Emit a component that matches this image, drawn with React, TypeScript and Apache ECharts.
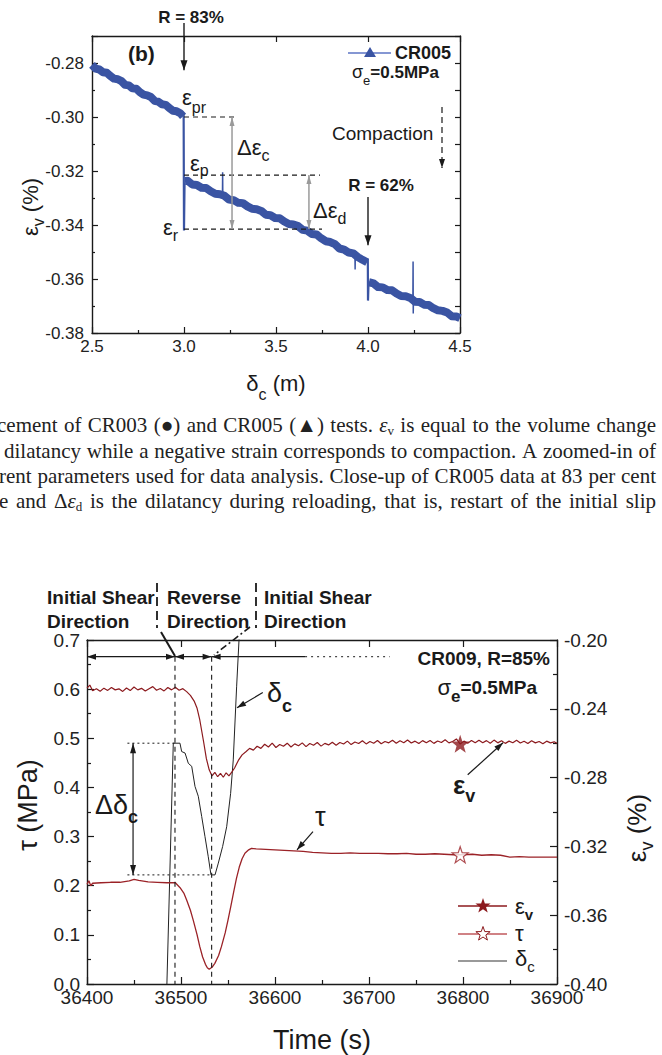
import React, { useEffect, useRef } from "react";
import * as echarts from "echarts";

const SANS = "Liberation Sans, Arial, Helvetica, sans-serif";
const SERIF = "Liberation Serif, Times New Roman, serif";
const INK = "#1a1a1a";
const BLUE = "#3a54a3";
const EV_RED = "#8c1a1e";
const TAU_RED = "#9b2227";

// ---- panel (b): CR005, volumetric strain (%) against slip δc (m) ----
const cr005Before: [number, number][] = [
  [2.5, -0.2807], [2.52, -0.2821], [2.54, -0.2824], [2.56, -0.2834], [2.58, -0.2836],
  [2.6, -0.2848], [2.62, -0.2858], [2.64, -0.286], [2.66, -0.2867], [2.68, -0.2881],
  [2.7, -0.2883], [2.72, -0.2894], [2.74, -0.2895], [2.76, -0.2908], [2.78, -0.2917],
  [2.8, -0.292], [2.82, -0.2926], [2.84, -0.294], [2.86, -0.2943], [2.88, -0.2953],
  [2.9, -0.2955], [2.92, -0.2967], [2.94, -0.2977], [2.96, -0.2979], [2.98, -0.2986],
  [2.995, -0.2998],
];
const cr005Between: [number, number][] = [
  [3.005, -0.3237], [3.02, -0.3236], [3.045, -0.325], [3.07, -0.3252], [3.095, -0.3262],
  [3.12, -0.3263], [3.145, -0.3275], [3.17, -0.3284], [3.195, -0.3286], [3.22, -0.3292],
  [3.245, -0.3306], [3.27, -0.3308], [3.295, -0.3318], [3.32, -0.3319], [3.345, -0.3331],
  [3.37, -0.334], [3.395, -0.3342], [3.42, -0.3348], [3.445, -0.3362], [3.47, -0.3364],
  [3.495, -0.3374], [3.52, -0.3375], [3.545, -0.3387], [3.57, -0.3396], [3.595, -0.3398],
  [3.62, -0.3404], [3.645, -0.3418], [3.67, -0.3421], [3.695, -0.3433], [3.72, -0.3435],
  [3.745, -0.3449], [3.77, -0.346], [3.795, -0.3463], [3.82, -0.3471], [3.845, -0.3487],
  [3.87, -0.3491], [3.895, -0.3502], [3.92, -0.3505], [3.945, -0.3519], [3.97, -0.3529],
  [3.995, -0.3538],
];
const cr005After: [number, number][] = [
  [4.005, -0.3612], [4.03, -0.3616], [4.055, -0.363], [4.08, -0.3631], [4.105, -0.3641],
  [4.13, -0.3642], [4.155, -0.3654], [4.18, -0.3663], [4.205, -0.3664], [4.23, -0.367],
  [4.255, -0.3684], [4.28, -0.3685], [4.305, -0.3695], [4.33, -0.3696], [4.355, -0.3708],
  [4.38, -0.3716], [4.405, -0.3718], [4.43, -0.3724], [4.455, -0.3738], [4.48, -0.3739],
  [4.5, -0.3745],
];
const cr005Drop83: [number, number][] = [[2.998, -0.2985], [3.0, -0.342], [3.003, -0.3245]];
const cr005Drop62: [number, number][] = [[3.999, -0.3525], [4.0, -0.368], [4.003, -0.3612]];
const cr005Spikes: [number, number][][] = [
  [[3.209, -0.3288], [3.21, -0.3205], [3.211, -0.3291]],
  [[3.929, -0.3505], [3.93, -0.3565], [3.931, -0.351]],
  [[4.244, -0.3668], [4.245, -0.3535], [4.246, -0.3728], [4.247, -0.3671]],
];

// ---- CR009: εv (%), τ (MPa) and δc against time (s) ----
const evCR009: [number, number][] = [
  [36400, -0.228], [36403, -0.2262], [36406, -0.2295], [36410, -0.2283], [36414, -0.2298],
  [36418, -0.228], [36422, -0.2293], [36426, -0.2276], [36430, -0.229], [36434, -0.2284],
  [36438, -0.2299], [36442, -0.2279], [36446, -0.2294], [36450, -0.2273], [36454, -0.229],
  [36458, -0.2281], [36462, -0.2297], [36466, -0.2283], [36470, -0.2271], [36474, -0.2292],
  [36478, -0.2282], [36482, -0.2296], [36486, -0.2276], [36490, -0.229], [36494, -0.2275],
  [36498, -0.2292], [36502, -0.2283], [36506, -0.23], [36510, -0.2322], [36514, -0.2355],
  [36517, -0.2395], [36520, -0.2465], [36524, -0.259], [36527, -0.269], [36530, -0.2755],
  [36533, -0.279], [36536, -0.277], [36539, -0.2795], [36542, -0.2775], [36545, -0.2798],
  [36548, -0.2772], [36551, -0.279], [36554, -0.2768], [36557, -0.2744], [36561, -0.27],
  [36565, -0.2668], [36569, -0.265], [36573, -0.263], [36577, -0.264], [36581, -0.2618],
  [36585, -0.263], [36589, -0.2606], [36593, -0.2622], [36597, -0.26], [36601, -0.2625],
  [36605, -0.2608], [36609, -0.2618], [36613, -0.26], [36617, -0.2622], [36621, -0.2604],
  [36625, -0.2615], [36629, -0.2598], [36633, -0.262], [36637, -0.2602], [36641, -0.2612],
  [36645, -0.2596], [36649, -0.2617], [36653, -0.2601], [36657, -0.261], [36661, -0.2594],
  [36665, -0.2612], [36669, -0.2596], [36673, -0.2605], [36677, -0.2588], [36681, -0.2608],
  [36685, -0.2593], [36689, -0.2602], [36693, -0.2586], [36697, -0.2604], [36701, -0.259],
  [36705, -0.26], [36709, -0.2584], [36713, -0.2603], [36717, -0.259], [36721, -0.2598],
  [36725, -0.2583], [36729, -0.26], [36733, -0.2586], [36737, -0.2597], [36741, -0.2581],
  [36745, -0.2599], [36749, -0.2588], [36753, -0.2602], [36757, -0.2585], [36761, -0.2598],
  [36765, -0.2584], [36769, -0.2601], [36773, -0.2587], [36777, -0.2596], [36781, -0.258],
  [36785, -0.2598], [36789, -0.259], [36793, -0.2575], [36797, -0.2605], [36801, -0.2588],
  [36805, -0.26], [36809, -0.2584], [36813, -0.2598], [36817, -0.2583], [36821, -0.2597],
  [36825, -0.2585], [36829, -0.26], [36833, -0.2582], [36837, -0.2598], [36841, -0.2586],
  [36845, -0.2601], [36849, -0.2588], [36853, -0.2597], [36857, -0.2583], [36861, -0.2599],
  [36865, -0.2589], [36869, -0.2602], [36873, -0.2586], [36877, -0.2598], [36881, -0.259],
  [36885, -0.2603], [36889, -0.2588], [36893, -0.2598], [36897, -0.2592], [36900, -0.26],
];
const tauCR009: [number, number][] = [
  [36400, 0.203], [36402, 0.21], [36404, 0.2], [36406, 0.205], [36415, 0.206], [36425, 0.207],
  [36435, 0.207], [36445, 0.21], [36450, 0.213], [36455, 0.211], [36465, 0.208], [36475, 0.207],
  [36485, 0.206], [36494, 0.206], [36499, 0.196], [36503, 0.185], [36506, 0.171], [36510, 0.15],
  [36513, 0.13], [36517, 0.101], [36520, 0.076], [36523, 0.055], [36526, 0.04], [36528, 0.033],
  [36530, 0.03], [36533, 0.034], [36536, 0.042], [36540, 0.058], [36543, 0.076], [36547, 0.104],
  [36550, 0.13], [36553, 0.158], [36556, 0.187], [36559, 0.215], [36562, 0.238], [36565, 0.255],
  [36568, 0.266], [36572, 0.273], [36575, 0.276], [36580, 0.275], [36590, 0.274], [36600, 0.273],
  [36610, 0.272], [36620, 0.271], [36630, 0.27], [36640, 0.268], [36650, 0.267], [36660, 0.266],
  [36670, 0.266], [36680, 0.267], [36690, 0.266], [36700, 0.266], [36710, 0.266], [36720, 0.265],
  [36730, 0.265], [36740, 0.266], [36750, 0.264], [36760, 0.264], [36770, 0.265], [36780, 0.264],
  [36790, 0.263], [36800, 0.263], [36810, 0.264], [36820, 0.262], [36830, 0.263], [36840, 0.262],
  [36850, 0.258], [36860, 0.259], [36870, 0.258], [36880, 0.258], [36890, 0.258], [36900, 0.258],
];
const deltaCR009: [number, number][] = [
  [36485, 0.0], [36491.8, 0.49], [36498.9, 0.49], [36500.7, 0.473], [36504.3, 0.47],
  [36507.8, 0.449], [36511.4, 0.443], [36514.9, 0.402], [36518.4, 0.382], [36522, 0.341],
  [36525.5, 0.3], [36529, 0.259], [36531.9, 0.222], [36536.2, 0.222], [36539.7, 0.246],
  [36544.3, 0.28], [36548.6, 0.32], [36552.8, 0.388], [36555.6, 0.456], [36559.2, 0.606],
  [36561.9, 0.707],
];
const markerTime = 36797;
const evMarker = -0.2603;
const tauMarker = 0.263;

// caption fragment between the panels ({i|..} italic, {s|..} subscript)
const captionLines = [
  "cement of CR003 (●) and CR005 (▲) tests. {i|ε}{s|v} is equal to the volume change",
  "dilatancy while a negative strain corresponds to compaction. A zoomed-in of",
  "rent parameters used for data analysis. Close-up of CR005 data at 83 per cent",
  "e and Δ{i|ε}{s|d} is the dilatancy during reloading, that is, restart of the initial slip",
];
const CAP_SIZE = 21;
const CAP_SUB = 13;

const starPath = (() => {
  const p: string[] = [];
  for (let i = 0; i < 10; i++) {
    const r = i % 2 === 0 ? 10 : 4;
    const a = -Math.PI / 2 + (i * Math.PI) / 5;
    p.push(`${(r * Math.cos(a)).toFixed(2)},${(r * Math.sin(a)).toFixed(2)}`);
  }
  return "path://M" + p.join("L") + "Z";
})();

const starPts = (cx: number, cy: number, R: number) => {
  const pts: number[][] = [];
  for (let i = 0; i < 10; i++) {
    const r = i % 2 === 0 ? R : R * 0.4;
    const a = -Math.PI / 2 + (i * Math.PI) / 5;
    pts.push([cx + r * Math.cos(a), cy + r * Math.sin(a)]);
  }
  return pts;
};

// graphic helpers
const seg = (a: number[], b: number[], color = INK, width = 1.2, dash?: number[]) => ({
  type: "line",
  silent: true,
  z: 20,
  shape: { x1: a[0], y1: a[1], x2: b[0], y2: b[1] },
  style: { stroke: color, lineWidth: width, lineDash: dash },
});
const head = (tip: number[], from: number[], color: string, len: number, w: number) => {
  const dx = tip[0] - from[0];
  const dy = tip[1] - from[1];
  const d = Math.hypot(dx, dy) || 1;
  const ux = dx / d;
  const uy = dy / d;
  const bx = tip[0] - ux * len;
  const by = tip[1] - uy * len;
  return {
    type: "polygon",
    silent: true,
    z: 21,
    shape: { points: [[tip[0], tip[1]], [bx - (uy * w) / 2, by + (ux * w) / 2], [bx + (uy * w) / 2, by - (ux * w) / 2]] },
    style: { fill: color },
  };
};
const arrow = (a: number[], b: number[], o: any = {}) => {
  const color = o.color || INK;
  const len = o.len || 9;
  const w = o.w || 6;
  const out: any[] = [seg(a, b, color, o.width || 1.2, o.dash), head(b, a, color, len, w)];
  if (o.both) out.push(head(a, b, color, len, w));
  return out;
};
const txt = (x: number, y: number, text: string, size: number, o: any = {}) => ({
  type: "text",
  silent: true,
  z: 22,
  x,
  y,
  rotation: o.rotation || 0,
  style: {
    text,
    fontSize: size,
    fontFamily: o.family || SANS,
    fontWeight: o.weight || "normal",
    fontStyle: o.italic ? "italic" : "normal",
    fill: o.color || INK,
    align: o.align || "left",
    verticalAlign: "middle",
    textAlign: o.align || "left",
    textVerticalAlign: "middle",
    rich: o.rich,
  },
});
// main text plus a lowered subscript, drawn as rich text
const subRich = (m: number, s: number, drop: number, o: any = {}) => ({
  m: { fontSize: m, fontFamily: o.family || SANS, fontWeight: o.mw || "normal", fill: INK },
  s: { fontSize: s, fontFamily: o.family || SANS, fontWeight: o.sw || "normal", fill: INK, padding: [drop * 2, 0, 0, 0] },
  b: { fontSize: o.b || m, fontFamily: o.family || SANS, fontWeight: "bold", fill: INK },
});

// justified caption line: words spread between x0 and x1
const captionLine = (line: string, x0: number, x1: number, y: number) => {
  const ctx = document.createElement("canvas").getContext("2d") as CanvasRenderingContext2D;
  const runsOf = (w: string) => {
    const out: { k: string; t: string }[] = [];
    const re = /\{(\w)\|([^}]*)\}|([^{]+)/g;
    let m: RegExpExecArray | null;
    while ((m = re.exec(w))) out.push(m[3] != null ? { k: "n", t: m[3] } : { k: m[1], t: m[2] });
    return out;
  };
  const widthOf = (r: { k: string; t: string }) => {
    ctx.font = `${r.k === "i" ? "italic " : ""}${r.k === "s" ? CAP_SUB : CAP_SIZE}px ${SERIF}`;
    return ctx.measureText(r.t).width;
  };
  const words = line.split(" ").filter((w) => w.length).map((w) => {
    const runs = runsOf(w);
    return { runs, w: runs.reduce((a, r) => a + widthOf(r), 0) };
  });
  const total = words.reduce((a, p) => a + p.w, 0);
  const gap = (x1 - x0 - total) / Math.max(1, words.length - 1);
  const els: any[] = [];
  let x = x0;
  words.forEach((p) => {
    let cx = x;
    p.runs.forEach((r) => {
      els.push(
        txt(cx, r.k === "s" ? y + 5 : y, r.t, r.k === "s" ? CAP_SUB : CAP_SIZE, {
          family: SERIF,
          italic: r.k === "i",
          color: "#222",
        })
      );
      cx += widthOf(r);
    });
    x += p.w + gap;
  });
  return els;
};

const axisLine = { show: true, onZero: false, lineStyle: { color: INK, width: 1.4 } };
const tickStyle = { color: INK, width: 1.2 };

export default function App() {
  const ref = useRef<HTMLDivElement>(null);

  useEffect(() => {
    const chart = echarts.init(ref.current, null, { renderer: "svg" });

    const thin = (data: [number, number][], width = 2.2) => ({
      type: "line",
      xAxisIndex: 0,
      yAxisIndex: 0,
      data,
      symbol: "none",
      lineStyle: { color: BLUE, width },
      z: 4,
    });
    const band = (data: [number, number][]) => ({
      type: "line",
      xAxisIndex: 0,
      yAxisIndex: 0,
      data,
      symbol: "none",
      lineStyle: { color: BLUE, width: 8, join: "round" },
      z: 3,
    });

    chart.setOption({
      animation: false,
      backgroundColor: "#fff",
      grid: [
        { left: 92, top: 36, width: 368, height: 297 },
        { left: 87, top: 640, width: 470, height: 344 },
      ],
      xAxis: [
        {
          gridIndex: 0, type: "value", position: "bottom", min: 2.5, max: 4.5, interval: 0.5,
          axisLine, axisTick: { inside: true, length: 6, lineStyle: tickStyle },
          minorTick: { show: true, splitNumber: 2, length: 3, lineStyle: tickStyle },
          splitLine: { show: false },
          axisLabel: { fontSize: 17, fontFamily: SANS, color: "#222", margin: 5, formatter: (v: number) => v.toFixed(1) },
        },
        {
          gridIndex: 0, type: "value", position: "top", min: 2.5, max: 4.5, interval: 0.5,
          axisLine, axisTick: { inside: true, length: 6, lineStyle: tickStyle },
          splitLine: { show: false }, axisLabel: { show: false },
        },
        {
          gridIndex: 1, type: "value", position: "bottom", min: 36400, max: 36900, interval: 100,
          axisLine, axisTick: { inside: true, length: 7, lineStyle: tickStyle },
          minorTick: { show: true, splitNumber: 2, length: 4, lineStyle: tickStyle },
          splitLine: { show: false },
          axisLabel: { fontSize: 19, fontFamily: SANS, color: "#222", margin: 4, formatter: (v: number) => String(v) },
        },
        {
          gridIndex: 1, type: "value", position: "top", min: 36400, max: 36900, interval: 100,
          axisLine, axisTick: { inside: true, length: 7, lineStyle: tickStyle },
          splitLine: { show: false }, axisLabel: { show: false },
        },
      ],
      yAxis: [
        {
          gridIndex: 0, type: "value", position: "left", min: -0.38, max: -0.27, interval: 0.02,
          axisLine, axisTick: { inside: true, length: 6, lineStyle: tickStyle },
          minorTick: { show: true, splitNumber: 2, length: 3, lineStyle: tickStyle },
          splitLine: { show: false },
          axisLabel: { fontSize: 17, fontFamily: SANS, color: "#222", margin: 8, showMaxLabel: false, formatter: (v: number) => v.toFixed(2) },
        },
        {
          gridIndex: 0, type: "value", position: "right", min: -0.38, max: -0.27, interval: 0.01,
          axisLine, axisTick: { inside: true, length: 5, lineStyle: tickStyle },
          splitLine: { show: false }, axisLabel: { show: false },
        },
        {
          gridIndex: 1, type: "value", position: "left", min: 0, max: 0.7, interval: 0.1,
          axisLine, axisTick: { inside: true, length: 7, lineStyle: tickStyle },
          minorTick: { show: true, splitNumber: 2, length: 4, lineStyle: tickStyle },
          splitLine: { show: false },
          axisLabel: { fontSize: 19, fontFamily: SANS, color: "#222", margin: 7, formatter: (v: number) => v.toFixed(1) },
        },
        {
          gridIndex: 1, type: "value", position: "right", min: -0.4, max: -0.2, interval: 0.04,
          axisLine, axisTick: { inside: true, length: 7, lineStyle: tickStyle },
          minorTick: { show: true, splitNumber: 2, length: 4, lineStyle: tickStyle },
          splitLine: { show: false },
          axisLabel: { fontSize: 19, fontFamily: SANS, color: "#222", margin: 7, formatter: (v: number) => v.toFixed(2) },
        },
      ],
      series: [
        band(cr005Before),
        band(cr005Between),
        band(cr005After),
        thin(cr005Drop83),
        thin(cr005Drop62),
        ...cr005Spikes.map((s) => thin(s, 1.5)),
        {
          name: "εv", type: "line", xAxisIndex: 2, yAxisIndex: 3, data: evCR009, symbol: "none",
          lineStyle: { color: EV_RED, width: 1.2 }, z: 3,
        },
        {
          name: "τ", type: "line", xAxisIndex: 2, yAxisIndex: 2, data: tauCR009, symbol: "none",
          lineStyle: { color: TAU_RED, width: 1.3 }, z: 3,
        },
        {
          name: "δc", type: "line", xAxisIndex: 2, yAxisIndex: 2, data: deltaCR009, symbol: "none",
          lineStyle: { color: "#222", width: 1 }, z: 2,
        },
        {
          type: "scatter", xAxisIndex: 2, yAxisIndex: 3, data: [[markerTime, evMarker]],
          symbol: starPath, symbolSize: 18, itemStyle: { color: EV_RED }, z: 5,
        },
        {
          type: "scatter", xAxisIndex: 2, yAxisIndex: 2, data: [[markerTime, tauMarker]],
          symbol: starPath, symbolSize: 16, itemStyle: { color: "#fff", borderColor: TAU_RED, borderWidth: 1.2 }, z: 5,
        },
      ],
    });

    const P0 = (x: number, y: number) => chart.convertToPixel({ xAxisIndex: 0, yAxisIndex: 0 }, [x, y]) as number[];
    const P1 = (x: number, y: number) => chart.convertToPixel({ xAxisIndex: 2, yAxisIndex: 2 }, [x, y]) as number[];

    const g: any[] = [];

    // ---------- panel (b) annotations ----------
    const x83 = P0(3.0, -0.28)[0];
    const x62 = P0(4.0, -0.28)[0];
    g.push(txt(x83 + 7, 17, "R = 83%", 17, { weight: "bold", align: "center" }));
    g.push(...arrow([x83, 23], P0(3.0, -0.2827), { len: 10, w: 7, width: 1.4 }));
    g.push(txt(128, 53, "(b)", 21, { weight: "bold" }));
    g.push(seg([348, 53], [391, 53], "#5c75c4", 1.6));
    g.push({ type: "polygon", silent: true, z: 21, shape: { points: [[370, 47], [376, 57], [364, 57]] }, style: { fill: BLUE } });
    g.push(txt(395, 53, "CR005", 18, { weight: "bold" }));
    g.push(txt(352, 72, "{m|σ}{s|e}{b|=0.5MPa}", 18, { rich: subRich(18, 13, 8, { b: 17 }) }));
    g.push(txt(332, 133, "Compaction", 19));
    g.push(...arrow([442, 107], [442, 168], { dash: [6, 4], len: 9, w: 6 }));
    g.push(txt(x62 + 13, 185, "R = 62%", 17, { weight: "bold", align: "center" }));
    g.push(...arrow([x62, 197], P0(4.0, -0.3475), { len: 10, w: 7, width: 1.4 }));

    g.push(seg(P0(3.0, -0.3), P0(3.288, -0.3), INK, 1.2, [5, 4]));
    g.push(seg(P0(3.0, -0.3215), P0(3.739, -0.3215), INK, 1.2, [5, 4]));
    g.push(seg(P0(3.0, -0.3415), P0(3.75, -0.3415), INK, 1.2, [5, 4]));
    g.push(...arrow(P0(3.261, -0.3), P0(3.261, -0.3415), { both: true, color: "#9a9a9a", width: 1.5, len: 9, w: 5 }));
    g.push(...arrow(P0(3.679, -0.3215), P0(3.679, -0.3415), { both: true, color: "#9a9a9a", width: 1.5, len: 9, w: 5 }));

    g.push(txt(182, 97, "{m|ε}{s|pr}", 22, { rich: subRich(22, 16, 10) }));
    g.push(txt(237, 147, "{m|Δε}{s|c}", 22, { rich: subRich(22, 16, 8) }));
    g.push(txt(190, 163, "{m|ε}{s|p}", 22, { rich: subRich(22, 16, 7) }));
    g.push(txt(313, 210, "{m|Δε}{s|d}", 22, { rich: subRich(22, 16, 8) }));
    g.push(txt(163, 227, "{m|ε}{s|r}", 22, { rich: subRich(22, 16, 8) }));

    g.push(txt(276, 383, "{m|δ}{s|c}{m| (m)}", 22, { align: "center", rich: subRich(22, 16, 11) }));
    g.push(txt(30, 207, "{m|ε}{s|v}{m| (%)}", 22, { align: "center", rotation: Math.PI / 2, rich: subRich(22, 16, 8) }));

    // ---------- caption text between the panels ----------
    const capY = [425, 451, 476, 501];
    const capX = [-3, 4, -1, -1];
    captionLines.forEach((t, i) => g.push(...captionLine(t, capX[i], 656, capY[i])));

    // ---------- CR009 annotations ----------
    const hdr = { weight: "bold" };
    g.push(txt(47, 597, "Initial Shear", 19, hdr));
    g.push(txt(47, 621, "Direction", 19, hdr));
    g.push(txt(167, 597, "Reverse", 19, hdr));
    g.push(txt(167, 621, "Direction", 19, hdr));
    g.push(txt(264, 597, "Initial Shear", 19, hdr));
    g.push(txt(264, 621, "Direction", 19, hdr));
    g.push(seg([157, 583], [157, 628], INK, 1.8, [9, 5]));
    g.push(seg([256, 583], [256, 628], INK, 1.8, [9, 5]));
    g.push(seg([161, 632], [175, 656], INK, 2));
    g.push(seg([250, 627], [214, 655], INK, 1.6, [7, 3, 2, 3]));

    const yH = 0.666;
    const tRev = 36493.6;
    const tBack = 36532.6;
    g.push(...arrow(P1(36400, yH), P1(tRev, yH), { both: true, len: 9, w: 6 }));
    g.push(...arrow(P1(tRev, yH), P1(tBack, yH), { both: true, len: 9, w: 6 }));
    g.push(...arrow(P1(36632, yH), P1(tBack, yH), { len: 9, w: 6 }));
    g.push(seg(P1(36632, yH), P1(36722, yH), INK, 1, [2, 4]));
    g.push(seg(P1(tRev, yH), P1(tRev, 0), INK, 1.1, [5, 4]));
    g.push(seg(P1(tBack, yH), P1(tBack, 0), INK, 1.1, [5, 4]));
    g.push(seg(P1(36443, 0.49), P1(36493, 0.49), INK, 1, [2, 3]));
    g.push(seg(P1(36443, 0.222), P1(36531, 0.222), INK, 1, [2, 3]));
    g.push(...arrow(P1(36449, 0.49), P1(36449, 0.222), { both: true, len: 10, w: 6 }));
    g.push(...arrow(P1(36587, 0.593), P1(36559.6, 0.562), { len: 9, w: 6 }));
    g.push(...arrow(P1(36640.4, 0.31), P1(36623.4, 0.273), { len: 9, w: 6 }));
    g.push(...arrow(P1(36805, 0.4257), P1(36842.6, 0.4908), { len: 9, w: 6 }));

    g.push(txt(267, 693, "{m|δ}{s|c}", 27, { rich: subRich(27, 18, 13, { sw: "bold" }) }));
    g.push(txt(95, 805, "{m|Δδ}{s|c}", 27, { rich: subRich(27, 18, 12, { sw: "bold" }) }));
    g.push(txt(315, 817, "τ", 27));
    g.push(txt(453, 785, "{m|ε}{s|v}", 26, { rich: subRich(26, 18, 11, { mw: "bold", sw: "bold" }) }));
    g.push(txt(550, 658, "CR009, R=85%", 19, { weight: "bold", align: "right" }));
    g.push(txt(537, 687, "{m|σ}{s|e}{b|=0.5MPa}", 22, { align: "right", rich: subRich(22, 17, 9, { sw: "bold", b: 19 }) }));

    // legend
    g.push(seg([458, 906], [507, 906], EV_RED, 1.5));
    g.push({ type: "polygon", silent: true, z: 21, shape: { points: starPts(483, 906, 8) }, style: { fill: EV_RED } });
    g.push(seg([458, 934], [507, 934], "#c0585c", 1.5));
    g.push({ type: "polygon", silent: true, z: 21, shape: { points: starPts(483, 934, 7.5) }, style: { fill: "#fff", stroke: EV_RED, lineWidth: 1 } });
    g.push(seg([458, 961], [507, 961], "#777", 1.3));
    g.push(txt(515, 906, "{m|ε}{s|v}", 22, { rich: subRich(22, 15, 8, { sw: "bold" }) }));
    g.push(txt(515, 933, "τ", 22));
    g.push(txt(515, 958, "{m|δ}{s|c}", 22, { rich: subRich(22, 15, 8) }));

    // axis titles
    g.push(txt(28, 805, "τ (MPa)", 27, { align: "center", rotation: Math.PI / 2 }));
    g.push(txt(637, 828, "{m|ε}{s|v}{m| (%)}", 26, { align: "center", rotation: Math.PI / 2, rich: subRich(26, 18, 10) }));
    g.push(txt(322, 1040, "Time (s)", 27, { align: "center" }));

    chart.setOption({ graphic: { elements: g } });

    return () => {
      chart.dispose();
    };
  }, []);

  return (
    <div
      ref={ref}
      style={{ position: "absolute", left: 0, top: 0, width: 662, height: 1055, background: "#fff" }}
    ></div>
  );
}
